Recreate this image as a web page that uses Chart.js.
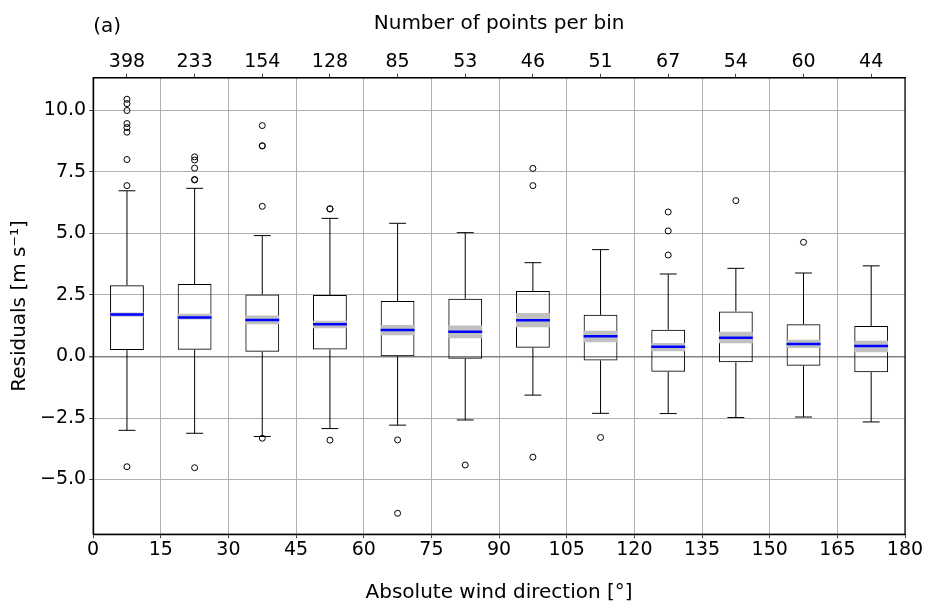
<!DOCTYPE html>
<html>
<head>
<meta charset="utf-8">
<script src="https://cdn.jsdelivr.net/npm/chart.js@4.4.0/dist/chart.umd.min.js"></script>
<style>
  html, body { margin: 0; padding: 0; background: #fff; }
  #wrap { width: 925px; height: 605px; }
</style>
</head>
<body>
<div id="wrap"><canvas id="box-chart"></canvas></div>
<script>
// bin centres (deg) and number of points per bin
const binCenters = [7.5, 22.5, 37.5, 52.5, 67.5, 82.5, 97.5, 112.5, 127.5, 142.5, 157.5, 172.5];
const binCounts = [398, 233, 154, 128, 85, 53, 46, 51, 67, 54, 60, 44];

// box statistics
const q1 = [0.26, 0.27, 0.19, 0.28, 0.01, -0.09, 0.35, -0.16, -0.62, -0.24, -0.38, -0.64];
const q3 = [2.89, 2.94, 2.52, 2.50, 2.25, 2.34, 2.66, 1.69, 1.09, 1.83, 1.31, 1.24];
const medians = [1.70, 1.58, 1.48, 1.31, 1.08, 1.00, 1.47, 0.82, 0.39, 0.76, 0.51, 0.43];
const bandLo = [1.61, 1.50, 1.31, 1.15, 0.86, 0.74, 1.19, 0.58, 0.21, 0.54, 0.34, 0.17];
const bandHi = [1.79, 1.74, 1.66, 1.45, 1.28, 1.26, 1.77, 1.04, 0.55, 1.00, 0.68, 0.64];
const whiskLo = [-3.00, -3.12, -3.25, -2.93, -2.79, -2.58, -1.57, -2.31, -2.32, -2.48, -2.46, -2.66];
const whiskHi = [6.73, 6.83, 4.91, 5.61, 5.41, 5.03, 3.81, 4.34, 3.35, 3.58, 3.39, 3.68];
const outliers = [
    [10.45, 10.27, 9.99, 9.46, 9.30, 9.11, 8.00, 6.94, -4.48],
    [8.11, 7.98, 7.65, 7.19, 7.17, -4.52],
    [9.38, 8.56, 8.55, 6.10, -3.32],
    [6.00, 5.99, -3.40],
    [-3.39, -6.37],
    [-4.41],
    [7.64, 6.94, -4.09],
    [-3.29],
    [5.87, 5.10, 4.12],
    [6.33],
    [4.64],
    []
];

// axis ticks
const xTicks = [0, 15, 30, 45, 60, 75, 90, 105, 120, 135, 150, 165, 180];
const yTicks = [-5, -2.5, 0, 2.5, 5, 7.5, 10];

// half widths in degrees
const BOX_HALF = 3.75;
const CAP_HALF = 1.875;

// build line segments (null y breaks the line)
let whiskerPts = [];
let medianPts = [];
let outlierPts = [];
binCenters.forEach(function(c, i) {
    whiskerPts.push({x: c, y: q3[i]}, {x: c, y: whiskHi[i]}, {x: c, y: null});
    whiskerPts.push({x: c - CAP_HALF, y: whiskHi[i]}, {x: c + CAP_HALF, y: whiskHi[i]}, {x: c, y: null});
    whiskerPts.push({x: c, y: q1[i]}, {x: c, y: whiskLo[i]}, {x: c, y: null});
    whiskerPts.push({x: c - CAP_HALF, y: whiskLo[i]}, {x: c + CAP_HALF, y: whiskLo[i]}, {x: c, y: null});
    medianPts.push({x: c - BOX_HALF, y: medians[i]}, {x: c + BOX_HALF, y: medians[i]}, {x: c, y: null});
    for (o of outliers[i]) {
        outlierPts.push({x: c, y: o});
    }
});

const TICK_FONT = {family: 'DejaVu Sans', size: 19};
const TITLE_FONT = {family: 'DejaVu Sans', size: 20};

// frame and panel letter
const framePlugin = {
    id: 'frame',
    afterDraw(chart) {
        const ctx = chart.ctx;
        const a = chart.chartArea;
        ctx.save();
        ctx.strokeStyle = '#000';
        ctx.lineWidth = 1.2;
        ctx.strokeRect(a.left, a.top, a.right - a.left, a.bottom - a.top);
        ctx.fillStyle = '#000';
        ctx.font = '20px "DejaVu Sans"';
        ctx.textAlign = 'left';
        ctx.textBaseline = 'middle';
        ctx.fillText('(a)', a.left, 27);
        ctx.restore();
    }
};

const data = {
    datasets: [
        {
            type: 'scatter',
            data: outlierPts,
            pointRadius: 3,
            pointBorderWidth: 1,
            pointBorderColor: '#000',
            pointBackgroundColor: 'rgba(0,0,0,0)',
            order: 0
        },
        {
            type: 'line',
            data: medianPts,
            borderColor: '#0000ff',
            borderWidth: 2.5,
            borderDash: [1000, 0],   // keeps the plain path renderer
            pointRadius: 0,
            spanGaps: false,
            order: 1
        },
        {
            type: 'line',
            data: whiskerPts,
            borderColor: '#000',
            borderWidth: 1,
            borderDash: [1000, 0],
            pointRadius: 0,
            spanGaps: false,
            order: 2
        },
        {
            type: 'bar',
            data: binCenters.map((c, i) => ({x: c, y: [bandLo[i], bandHi[i]]})),
            backgroundColor: '#c0c0c0',
            borderWidth: 0,
            grouped: false,
            categoryPercentage: 1,
            barPercentage: 0.5,
            order: 3
        },
        {
            type: 'bar',
            data: binCenters.map((c, i) => ({x: c, y: [q1[i], q3[i]]})),
            backgroundColor: 'rgba(0,0,0,0)',
            borderColor: '#000',
            borderWidth: 1,
            borderSkipped: false,
            grouped: false,
            categoryPercentage: 1,
            barPercentage: 0.5,
            order: 4
        }
    ]
};

const config = {
    data: data,
    options: {
        responsive: true,
        maintainAspectRatio: false,
        animation: false,
        layout: {padding: {left: 3, right: 20, top: 7, bottom: 0}},
        plugins: {
            legend: {display: false},
            tooltip: {enabled: false}
        },
        scales: {
            x: {
                type: 'linear',
                position: 'bottom',
                offset: false,
                min: 0,
                max: 180,
                afterBuildTicks: function(scale) {
                    scale.ticks = xTicks.map(v => ({value: v}));
                },
                ticks: {color: '#000', font: TICK_FONT, padding: 0, maxRotation: 0, autoSkip: false},
                grid: {offset: false, color: '#b0b0b0', lineWidth: 1, tickColor: '#444', tickLength: 4},
                border: {display: true, color: '#000', width: 1.2},
                title: {display: true, text: 'Absolute wind direction [°]', color: '#000', font: TITLE_FONT, padding: {top: 20, bottom: 0}}
            },
            x2: {
                type: 'linear',
                position: 'top',
                offset: false,
                min: 0,
                max: 180,
                afterBuildTicks: function(scale) {
                    scale.ticks = binCenters.map(v => ({value: v}));
                },
                ticks: {
                    color: '#000', font: TICK_FONT, padding: 0, maxRotation: 0, autoSkip: false,
                    callback: function(value, index) { return binCounts[index]; }
                },
                grid: {offset: false, drawOnChartArea: false, tickColor: '#444', tickLength: 4},
                border: {display: true, color: '#000', width: 1.2},
                title: {display: true, text: 'Number of points per bin', color: '#000', font: TITLE_FONT, padding: {top: 5, bottom: 15}}
            },
            y: {
                type: 'linear',
                min: -7.22,
                max: 11.32,
                afterBuildTicks: function(scale) {
                    scale.ticks = yTicks.map(v => ({value: v}));
                },
                ticks: {
                    color: '#000', font: TICK_FONT, padding: 3,
                    callback: function(value) { return value.toFixed(1).replace('-', '\u2212'); }
                },
                grid: {
                    color: ctx => (ctx.tick && ctx.tick.value === 0) ? '#808080' : '#b0b0b0',
                    lineWidth: ctx => (ctx.tick && ctx.tick.value === 0) ? 1.5 : 1,
                    tickColor: '#444',
                    tickLength: 4
                },
                border: {display: true, color: '#000', width: 1.2},
                title: {display: true, text: 'Residuals [m s\u207B\u00B9]', color: '#000', font: TITLE_FONT, padding: {top: 5, bottom: 5}}
            }
        }
    },
    plugins: [framePlugin]
};

// get chart element
var context = document.getElementById('box-chart').getContext('2d');

// create instance
const boxChart = new Chart(context, config);
</script>
</body>
</html>
